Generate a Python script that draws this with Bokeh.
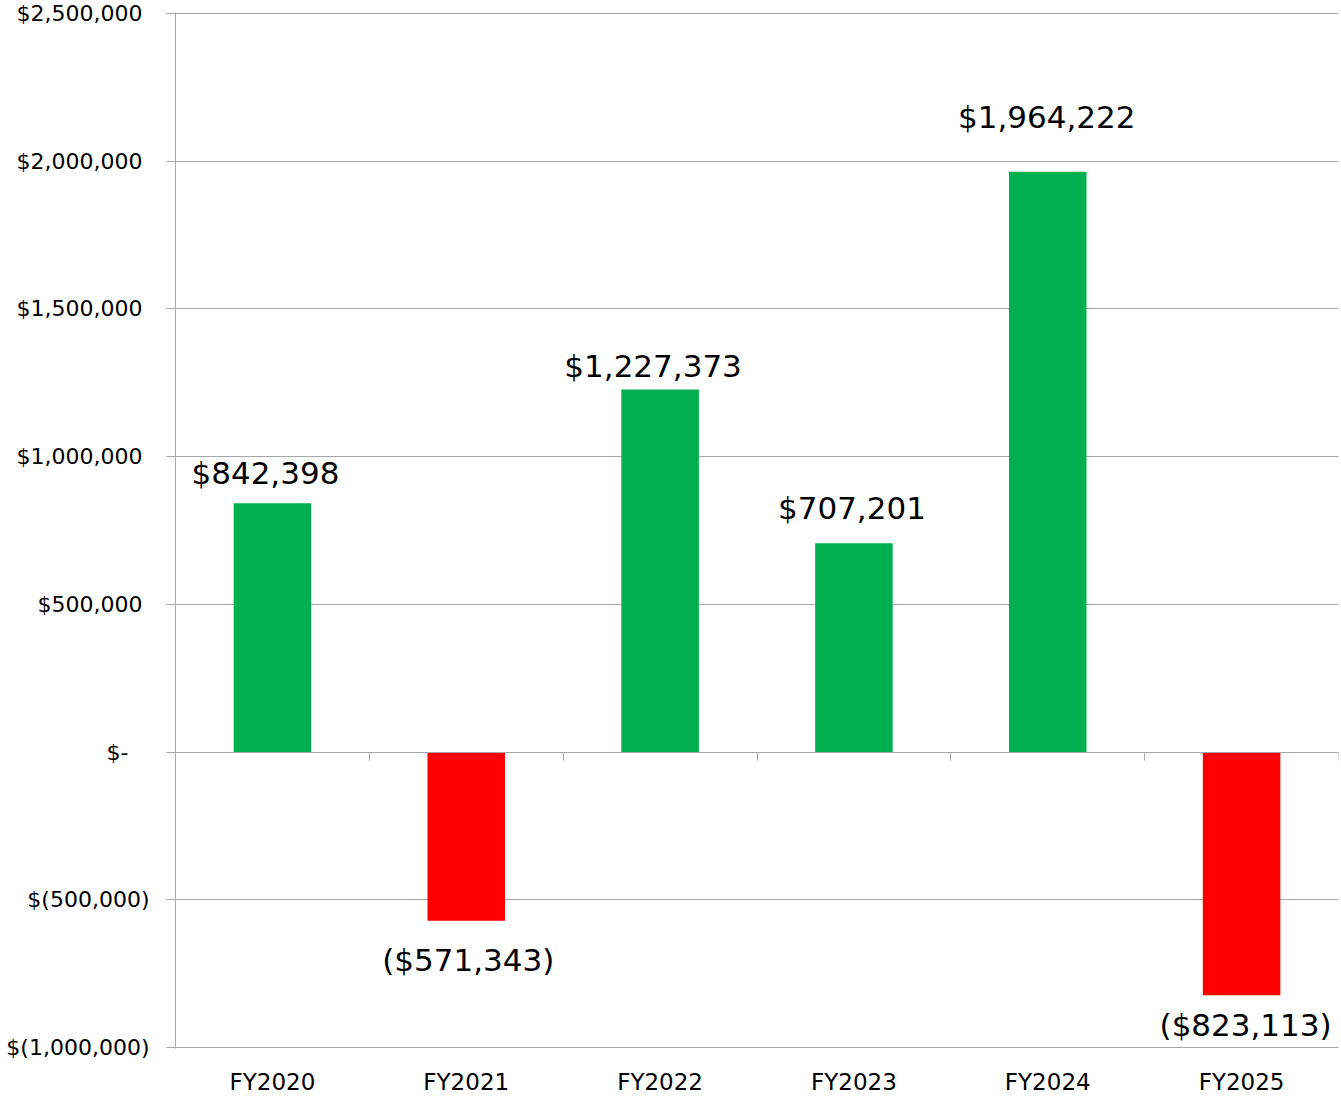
from bokeh.plotting import figure
from bokeh.models import Range1d, LinearAxis, FixedTicker, ColumnDataSource, Grid
from bokeh.core.properties import value
from bokeh.embed import file_html
from bokeh.resources import INLINE
import numpy as np

# ---- data ----
categories = ["FY2020", "FY2021", "FY2022", "FY2023", "FY2024", "FY2025"]
amounts = [842398, -571343, 1227373, 707201, 1964222, -823113]
y_ticks = [-1000000, -500000, 0, 500000, 1000000, 1500000, 2000000, 2500000]
y_tick_labels = ["$(1,000,000)", "$(500,000)", "$-\u00a0\u00a0\u00a0",
                 "$500,000\u00a0", "$1,000,000\u00a0", "$1,500,000\u00a0",
                 "$2,000,000\u00a0", "$2,500,000\u00a0"]

# label nudges (pixels) - styling only
label_dx = [-7, 2, -7, -2, -1, 4]
label_dy = [-30, 39, -23, -35, -55, 30]

FONT = "DejaVu Sans"
GRID = "#A6A6A6"
POS = "#00B050"
NEG = "#FF0000"

n = len(categories)
xs = np.arange(n) + 0.5
colors = [POS if v >= 0 else NEG for v in amounts]
texts = [f"${v:,}" if v >= 0 else f"(${-v:,})" for v in amounts]

src = ColumnDataSource(dict(x=xs, top=amounts, color=colors, text=texts,
                            dx=label_dx, dy=label_dy))

# one pixel of padding at each end so the outer gridlines stay visible
pad = 3500000 / 1034
p = figure(frame_width=1163, frame_height=1036,
           min_border_left=175, min_border_right=3,
           min_border_top=12, min_border_bottom=45,
           x_range=Range1d(0, n),
           y_range=Range1d(-1000000 - pad, 2500000 + pad),
           x_axis_type=None, y_axis_type=None,
           output_backend="svg", toolbar_location=None)
p.outline_line_color = None
p.background_fill_color = "white"
p.border_fill_color = "white"

# y axis
yax = LinearAxis(ticker=FixedTicker(ticks=y_ticks),
                 major_label_overrides={t: l for t, l in zip(y_ticks, y_tick_labels)})
yax.axis_line_color = GRID
yax.major_tick_line_color = GRID
yax.major_tick_out = 9
yax.major_tick_in = 0
yax.minor_tick_line_color = None
yax.major_label_text_font = FONT
yax.major_label_text_font_size = "22px"
yax.major_label_text_color = "#000000"
yax.major_label_standoff = 17
p.add_layout(yax, "left")

# horizontal gridlines
p.add_layout(Grid(dimension=1, ticker=yax.ticker, grid_line_color=GRID, grid_line_width=1))

# zero-line category axis with boundary ticks
zax = LinearAxis(ticker=FixedTicker(ticks=list(range(n + 1))), fixed_location=0)
zax.axis_line_color = GRID
zax.major_tick_line_color = GRID
zax.major_tick_out = 8
zax.major_tick_in = 0
zax.minor_tick_line_color = None
zax.major_label_text_alpha = 0
zax.major_label_text_font_size = "1px"
p.add_layout(zax, "below")

# category label axis at bottom
xax = LinearAxis(ticker=FixedTicker(ticks=list(xs)),
                 major_label_overrides={float(x): c for x, c in zip(xs, categories)})
xax.axis_line_color = None
xax.major_tick_line_color = None
xax.major_tick_out = 0
xax.major_tick_in = 0
xax.minor_tick_line_color = None
xax.major_label_text_font = FONT
xax.major_label_text_font_size = "23px"
xax.major_label_text_color = "#000000"
xax.major_label_standoff = 20
p.add_layout(xax, "below")

# bars
p.vbar(x="x", top="top", bottom=0, width=0.4, fill_color="color",
       line_color=None, source=src)

# data labels
p.text(x="x", y="top", text="text", x_offset="dx", y_offset="dy", source=src,
       text_font=value(FONT), text_font_size="31px", text_color="#000000",
       text_align="center", text_baseline="middle")

open("out.html", "w").write(file_html(p, INLINE))
